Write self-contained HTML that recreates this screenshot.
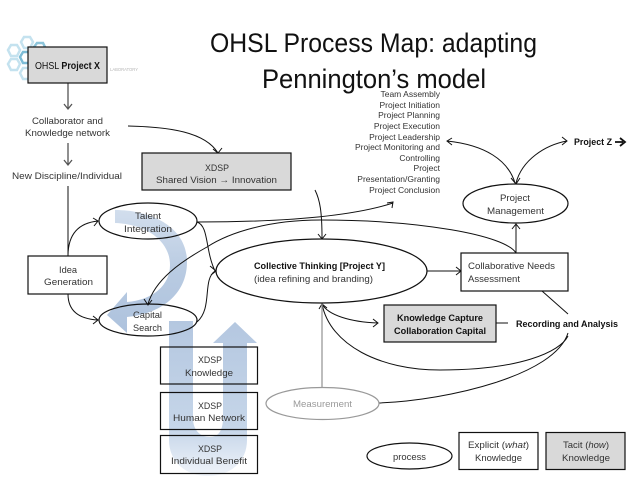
<!DOCTYPE html>
<html><head><meta charset="utf-8"><style>
html,body{margin:0;padding:0;background:#fff}
svg{display:block}
text{font-family:"Liberation Sans",sans-serif;font-size:9.5px;fill:#333}
.c{fill:none;stroke:#111;stroke-width:1}
.b{fill:#fff;stroke:#111;stroke-width:1.2}
.g{fill:#d9d9d9;stroke:#111;stroke-width:1.2}
.b1{font-weight:bold;fill:#111}
.l{font-size:8.5px;text-anchor:end}
</style></head><body>
<svg width="638" height="479" viewBox="0 0 638 479" xmlns="http://www.w3.org/2000/svg">
<defs>
<linearGradient id="u" x1="0" y1="0" x2="0" y2="1"><stop offset="0" stop-color="#b4c7e0"/><stop offset=".7" stop-color="#c6d6e9"/><stop offset="1" stop-color="#f0f4fa"/></linearGradient>
<linearGradient id="s" x1="0" y1="0" x2="0" y2="1"><stop offset="0" stop-color="#d2deed"/><stop offset=".5" stop-color="#b9cbe2"/><stop offset="1" stop-color="#adc2dd"/></linearGradient>
</defs>
<!-- logo -->
<g fill="none" stroke="#c4e2ef" stroke-width="2.5">
<polygon points="8,50 11,45 17,45 20,50 17,56 11,56"/>
<polygon points="21,42 24,37 30,37 33,42 30,48 24,48"/>
<polygon points="8,64 11,59 17,59 20,64 17,70 11,70"/>
<polygon points="20,73 23,68 29,68 32,73 29,79 23,79"/>
<polygon points="20,57 23,52 29,52 32,57 29,63 23,63" stroke="#7dbcd6"/>
<polygon points="34,47 37,43 43,43 45,47 43,52 37,52" stroke="#8cc4da"/>
</g>
<text x="110" y="71" style="font-size:4.5px;fill:#b5b5b5" textLength="28" lengthAdjust="spacingAndGlyphs">LABORATORY</text>
<!-- big arrows -->
<path d="M169 321H193V418C193 431 201 437 210 437C218 437 223 431 223 418V343H213L235 322L257 343H247V440C247 462 230 476 208 476C186 476 169 462 169 440Z" fill="url(#u)"/>
<path d="M115 210C148 210 187 225 187 262C187 295 160 314 127 317V333L107 315L127 292V302C153 300 170 285 170 265C170 240 145 224 115 223Z" fill="url(#s)"/>
<!-- title -->
<text x="210" y="52" style="font-size:27px;fill:#111" textLength="327" lengthAdjust="spacingAndGlyphs">OHSL Process Map: adapting</text>
<text x="262" y="88" style="font-size:27px;fill:#111" textLength="224" lengthAdjust="spacingAndGlyphs">Pennington’s model</text>
<!-- connectors -->
<path d="M68 83V108M64 104L68 109L72 104" fill="none" stroke="#555" stroke-width="1.3"/>
<path d="M68 143V165M64 160L68 165L72 160" fill="none" stroke="#555" stroke-width="1.3"/>
<path class="c" d="M128 126C170 127 205 132 218 153M213 149L218 153L222 148"/>
<path class="c" d="M68 186V256"/>
<path class="c" d="M68 256C68 235 78 223 98 221M93 218L98 221L94 226"/>
<path class="c" d="M68 294C68 312 80 319 98 320M93 316L98 320L93 324"/>
<path class="c" d="M197 222C209 226 205 250 215 271M210 266L216 271L211 275"/>
<path class="c" d="M197 322C213 308 202 280 215 271"/>
<path class="c" d="M197 222C280 222 350 217 393 203M387 203L393 202L392 208"/>
<path class="c" d="M516 253C505 235 420 220 320 220C270 220 230 232 207 247C180 262 155 280 148 304M144 299L148 305L152 300"/>
<path class="c" d="M315 190C320 200 322 212 322 238M318 234L322 239L326 234"/>
<path class="c" d="M427 271H461M456 267L461 271L456 275"/>
<path class="c" d="M516 253V224M512 229L516 224L520 229"/>
<path class="c" d="M515 183C508 160 485 145 447 141M452 138L447 141L452 145"/>
<path class="c" d="M516 183C522 160 545 145 567 141M562 137L567 141L562 145"/>
<path class="c" d="M511 178L516 184L520 178"/>
<path class="c" d="M542 291L568 314"/>
<path class="c" d="M496 323H508"/>
<path class="c" d="M568 336C560 352 520 370 440 370C380 370 330 345 322 304M319 309L322 304L327 308"/>
<path class="c" d="M322 304C328 315 350 322 378 323M373 319L378 323L373 327"/>
<path class="c" d="M379 403C450 400 555 375 568 333"/>
<path d="M322 304V387" fill="none" stroke="#999" stroke-width="1.3"/>
<!-- nodes -->
<rect class="g" x="28" y="47" width="79" height="36"/>
<text x="35" y="69" style="font-size:10px;fill:#111" textLength="65" lengthAdjust="spacingAndGlyphs">OHSL <tspan class="b1">Project X</tspan></text>
<text x="32" y="124" textLength="71" lengthAdjust="spacingAndGlyphs">Collaborator and</text>
<text x="25" y="136" textLength="85" lengthAdjust="spacingAndGlyphs">Knowledge network</text>
<text x="12" y="179" textLength="110" lengthAdjust="spacingAndGlyphs">New Discipline/Individual</text>
<rect class="g" x="142" y="153" width="149" height="37"/>
<text x="205" y="171" textLength="24" lengthAdjust="spacingAndGlyphs">XDSP</text>
<text x="156" y="183" textLength="121" lengthAdjust="spacingAndGlyphs">Shared Vision → Innovation</text>
<ellipse cx="148" cy="221" rx="49" ry="18" fill="none" stroke="#111" stroke-width="1.2"/>
<text x="135" y="219" textLength="26" lengthAdjust="spacingAndGlyphs">Talent</text>
<text x="124" y="232" textLength="48" lengthAdjust="spacingAndGlyphs">Integration</text>
<rect class="b" x="28" y="256" width="79" height="38"/>
<text x="59" y="273" textLength="18" lengthAdjust="spacingAndGlyphs">Idea</text>
<text x="44" y="285" textLength="49" lengthAdjust="spacingAndGlyphs">Generation</text>
<ellipse cx="148" cy="320" rx="49" ry="16" fill="none" stroke="#111" stroke-width="1.2"/>
<text x="133" y="318" textLength="29" lengthAdjust="spacingAndGlyphs">Capital</text>
<text x="133" y="331" textLength="29" lengthAdjust="spacingAndGlyphs">Search</text>
<ellipse cx="321.500" cy="271" rx="105.500" ry="32" fill="#fff" stroke="#111" stroke-width="1.2"/>
<text x="254" y="269" class="b1" textLength="131" lengthAdjust="spacingAndGlyphs">Collective Thinking [Project Y]</text>
<text x="254" y="282" textLength="119" lengthAdjust="spacingAndGlyphs">(idea refining and branding)</text>
<rect class="b" x="461" y="253" width="107" height="38"/>
<text x="468" y="269" textLength="87" lengthAdjust="spacingAndGlyphs">Collaborative Needs</text>
<text x="468" y="282" textLength="52" lengthAdjust="spacingAndGlyphs">Assessment</text>
<rect class="g" x="384" y="305" width="112" height="37"/>
<text x="397" y="321" class="b1" textLength="86" lengthAdjust="spacingAndGlyphs">Knowledge Capture</text>
<text x="394" y="334" class="b1" textLength="92" lengthAdjust="spacingAndGlyphs">Collaboration Capital</text>
<text x="516" y="327" class="b1" textLength="102" lengthAdjust="spacingAndGlyphs">Recording and Analysis</text>
<ellipse cx="515.500" cy="203.500" rx="52.500" ry="19.500" fill="#fff" stroke="#111" stroke-width="1.2"/>
<text x="500" y="201" textLength="30" lengthAdjust="spacingAndGlyphs">Project</text>
<text x="487" y="214" textLength="57" lengthAdjust="spacingAndGlyphs">Management</text>
<text x="574" y="145" class="b1" textLength="38" lengthAdjust="spacingAndGlyphs">Project Z</text>
<path d="M615 142H623M620 138L625 142L620 146" fill="none" stroke="#111" stroke-width="1.8"/>
<!-- list -->
<text x="440" y="97" class="l">Team Assembly</text>
<text x="440" y="108" class="l">Project Initiation</text>
<text x="440" y="118" class="l">Project Planning</text>
<text x="440" y="129" class="l">Project Execution</text>
<text x="440" y="140" class="l">Project Leadership</text>
<text x="440" y="150" class="l">Project Monitoring and</text>
<text x="440" y="161" class="l">Controlling</text>
<text x="440" y="171" class="l">Project</text>
<text x="440" y="182" class="l">Presentation/Granting</text>
<text x="440" y="193" class="l">Project Conclusion</text>
<!-- stacked boxes -->
<rect x="160.500" y="347" width="97" height="37" fill="none" stroke="#111" stroke-width="1.2"/>
<text x="198" y="363" textLength="24" lengthAdjust="spacingAndGlyphs">XDSP</text>
<text x="185" y="376" textLength="48" lengthAdjust="spacingAndGlyphs">Knowledge</text>
<rect x="160.500" y="392.500" width="97" height="37" fill="none" stroke="#111" stroke-width="1.2"/>
<text x="198" y="409" textLength="24" lengthAdjust="spacingAndGlyphs">XDSP</text>
<text x="173" y="421" textLength="72" lengthAdjust="spacingAndGlyphs">Human Network</text>
<rect x="160.500" y="435.500" width="97" height="38" fill="none" stroke="#111" stroke-width="1.2"/>
<text x="198" y="452" textLength="24" lengthAdjust="spacingAndGlyphs">XDSP</text>
<text x="171" y="464" textLength="76" lengthAdjust="spacingAndGlyphs">Individual Benefit</text>
<ellipse cx="322.500" cy="403.500" rx="56.500" ry="16" fill="#fff" stroke="#999" stroke-width="1.2"/>
<text x="293" y="407" style="fill:#999" textLength="59" lengthAdjust="spacingAndGlyphs">Measurement</text>
<ellipse cx="409.500" cy="456" rx="42.500" ry="13" fill="#fff" stroke="#111" stroke-width="1.2"/>
<text x="393" y="460" textLength="33" lengthAdjust="spacingAndGlyphs">process</text>
<rect class="b" x="459" y="432.500" width="79" height="37"/>
<text x="468" y="448" textLength="61" lengthAdjust="spacingAndGlyphs">Explicit (<tspan font-style="italic">what</tspan>)</text>
<text x="475" y="461" textLength="47" lengthAdjust="spacingAndGlyphs">Knowledge</text>
<rect class="g" x="546" y="432.500" width="79" height="37"/>
<text x="563" y="448" textLength="46" lengthAdjust="spacingAndGlyphs">Tacit (<tspan font-style="italic">how</tspan>)</text>
<text x="562" y="461" textLength="48" lengthAdjust="spacingAndGlyphs">Knowledge</text>
</svg>
</body></html>
